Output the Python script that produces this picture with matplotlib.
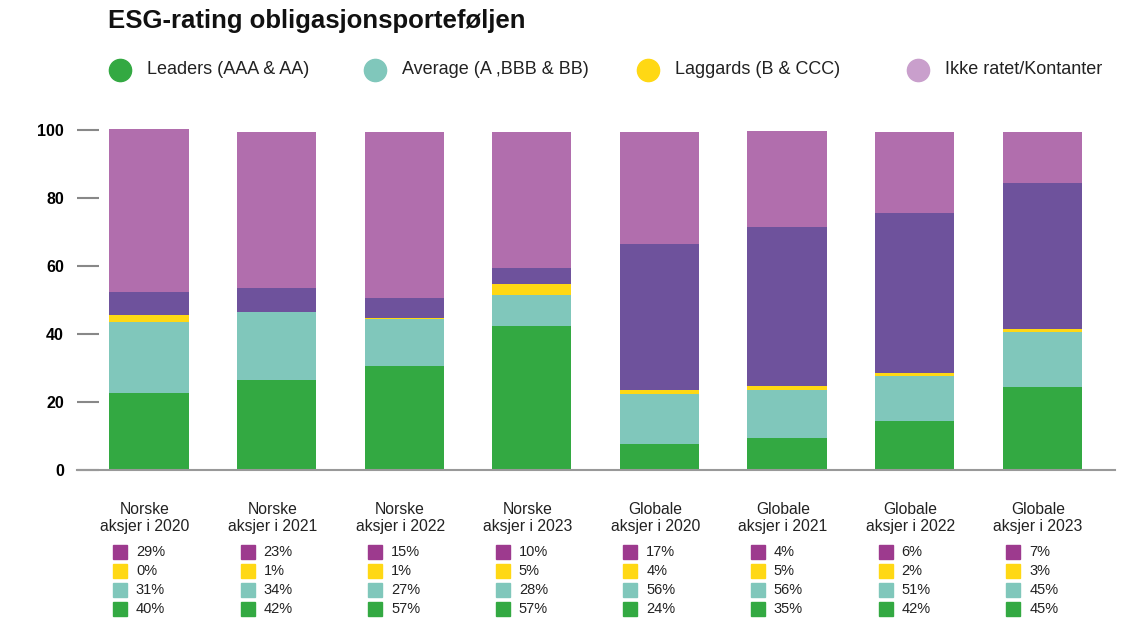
import matplotlib.pyplot as plt
from matplotlib.lines import Line2D
from matplotlib.patches import Rectangle
from matplotlib.transforms import blended_transform_factory

plt.rcParams['font.family'] = ['Liberation Sans', 'DejaVu Sans']

# categories and bar segments
categories = ["Norske\naksjer i 2020", "Norske\naksjer i 2021", "Norske\naksjer i 2022",
              "Norske\naksjer i 2023", "Globale\naksjer i 2020", "Globale\naksjer i 2021",
              "Globale\naksjer i 2022", "Globale\naksjer i 2023"]
leaders = [22.7, 26.6, 30.7, 42.5, 7.7, 9.5, 14.5, 24.5]
average = [20.9, 20.0, 13.8, 9.1, 14.8, 14.1, 13.3, 16.2]
laggards = [2.1, 0.0, 0.2, 3.2, 1.1, 1.2, 0.8, 0.9]
other = [6.8, 7.0, 6.0, 4.7, 43.0, 46.8, 47.1, 42.9]
ikke_ratet = [48.0, 45.9, 48.8, 40.0, 32.9, 28.2, 23.8, 15.0]

# percentages printed in the small tables under the bars
tab_ikke = [29, 23, 15, 10, 17, 4, 6, 7]
tab_laggards = [0, 1, 1, 5, 4, 5, 2, 3]
tab_average = [31, 34, 27, 28, 56, 56, 51, 45]
tab_leaders = [40, 42, 57, 57, 24, 35, 42, 45]

legend_labels = ["Leaders (AAA & AA)", "Average (A ,BBB & BB)", "Laggards (B & CCC)", "Ikke ratet/Kontanter"]

green = "#33a942"
teal = "#80c7bb"
yellow = "#ffd814"
darkpurple = "#6e529c"
lightpurple = "#b16ead"

fig = plt.figure(figsize=(11.36, 6.18), dpi=100)
ax = fig.add_axes([77/1136, (618-470)/618, (1115-77)/1136, (470-123.6)/618])

x = list(range(len(categories)))
w = 0.62
bottom = [0.0]*len(x)
for vals, col in [(leaders, green), (average, teal), (laggards, yellow),
                  (other, darkpurple), (ikke_ratet, lightpurple)]:
    ax.bar(x, vals, w, bottom=bottom, color=col, linewidth=0, zorder=2)
    bottom = [b + v for b, v in zip(bottom, vals)]

ax.set_xlim(-0.564, 7.571)
ax.set_ylim(0, 102)
ax.set_yticks([0, 20, 40, 60, 80, 100])
ax.set_xticks([])
for s in ["top", "right", "left"]:
    ax.spines[s].set_visible(False)
ax.spines["bottom"].set_color("#999999")
ax.spines["bottom"].set_linewidth(1.5)
ax.spines["bottom"].set_zorder(3)
ax.tick_params(axis="y", direction="in", length=15.5, width=1.5, color="#888888",
               pad=9.5, labelsize=11.5)
for lab in ax.get_yticklabels():
    lab.set_fontweight("bold")

# title
fig.text(108/1136, 1 - 21/618, "ESG-rating obligasjonsporteføljen", fontsize=18.5,
         fontweight="bold", va="center", ha="left", color="#111111")

# legend drawn by hand so the spacing matches
legend_cols = [green, teal, yellow, "#c99fcc"]
legend_x = [120, 375, 648, 918]
for lx, lab, col in zip(legend_x, legend_labels, legend_cols):
    fig.add_artist(Line2D([lx/1136], [1 - 70/618], marker="o", markersize=16,
                          color=col, transform=fig.transFigure))
    fig.text((lx + 27)/1136, 1 - 70/618, lab, fontsize=13, va="center", ha="left", color="#222222")

# tables under the bars
tr = blended_transform_factory(ax.transData, fig.transFigure)
px = 1/127.6
row_y = [552, 571, 590, 609]
row_cols = ["#9d3a8e", yellow, teal, green]
for i, cat in enumerate(categories):
    ax.text(i - 4*px, 1 - 518/618, cat, transform=tr, ha="center", va="center",
            fontsize=11.3, linespacing=1.25, color="#222222")
    vals = [tab_ikke[i], tab_laggards[i], tab_average[i], tab_leaders[i]]
    for ry, col, v in zip(row_y, row_cols, vals):
        ax.add_patch(Rectangle((i - 36*px, 1 - (ry + 7)/618), 14*px, 14/618,
                               transform=tr, color=col, clip_on=False))
        ax.text(i - 13*px, 1 - ry/618, f"{v}%", transform=tr, ha="left", va="center",
                fontsize=10.5, color="#222222")

plt.savefig("out.png", dpi=100)
